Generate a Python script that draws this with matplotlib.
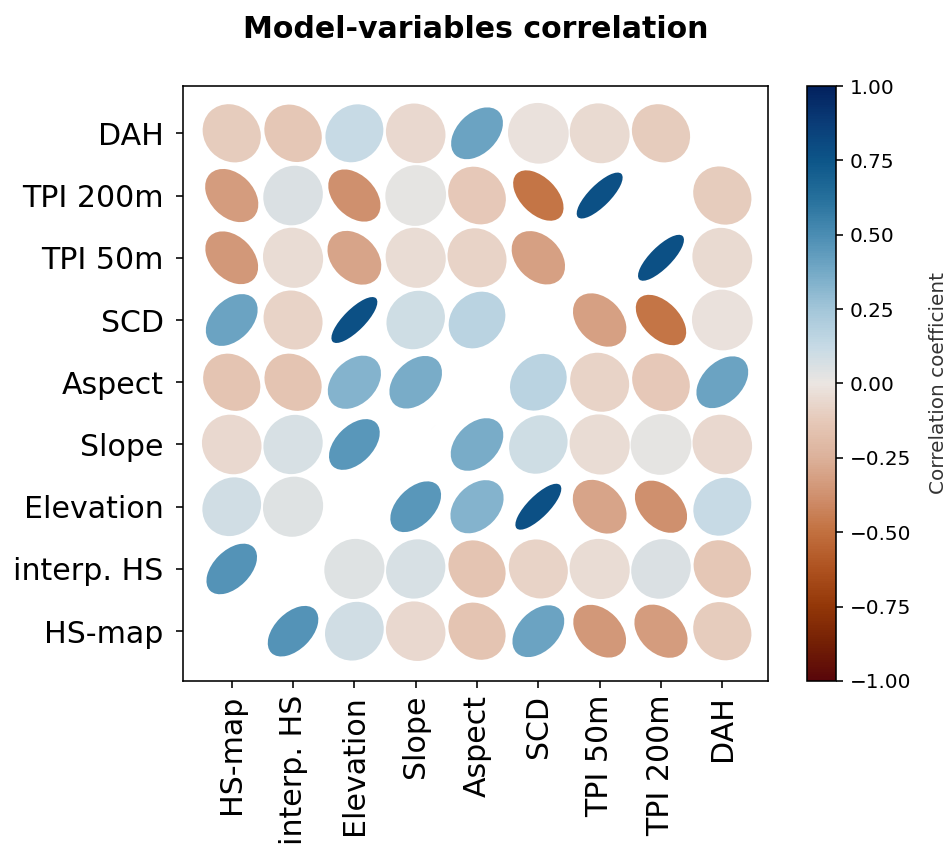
import numpy as np
import matplotlib
matplotlib.use("Agg")
import matplotlib.pyplot as plt
from matplotlib.collections import EllipseCollection
from matplotlib.colors import LinearSegmentedColormap, Normalize

variables = ["HS-map", "interp. HS", "Elevation", "Slope", "Aspect",
             "SCD", "TPI 50m", "TPI 200m", "DAH"]

# Pearson correlation of each variable with every variable (order of `variables`)
r_hs_map = [1.00, 0.47, 0.09, -0.06, -0.15, 0.40, -0.35, -0.33, -0.11]
r_interp = [0.47, 1.00, 0.04, 0.07, -0.15, -0.08, -0.04, 0.06, -0.14]
r_elev   = [0.09, 0.04, 1.00, 0.46, 0.33, 0.78, -0.30, -0.38, 0.12]
r_slope  = [-0.06, 0.07, 0.46, 1.00, 0.36, 0.10, -0.04, 0.02, -0.06]
r_aspect = [-0.15, -0.15, 0.33, 0.36, 1.00, 0.17, -0.08, -0.13, 0.40]
r_scd    = [0.40, -0.08, 0.78, 0.10, 0.17, 1.00, -0.32, -0.48, -0.02]
r_tpi50  = [-0.35, -0.04, -0.30, -0.04, -0.08, -0.32, 1.00, 0.78, -0.05]
r_tpi200 = [-0.33, 0.06, -0.38, 0.02, -0.13, -0.48, 0.78, 1.00, -0.11]
r_dah    = [-0.11, -0.14, 0.12, -0.06, 0.40, -0.02, -0.05, -0.11, 1.00]

M = np.array([r_hs_map, r_interp, r_elev, r_slope, r_aspect,
              r_scd, r_tpi50, r_tpi200, r_dah])

# diverging brown -> light grey -> blue map (vik, reversed)
vik_r = LinearSegmentedColormap.from_list("vik_r", [
    "#58060a", "#742005", "#933708", "#ae5220", "#c2703f", "#d09170",
    "#dcb19a", "#e6c9b9", "#ebe6e2", "#c6dae5", "#a3c6d9", "#75aac7",
    "#4b8db3", "#26709c", "#0d5689", "#0a3d78", "#03215e"])

fig = plt.figure(figsize=(947 / 144, 849 / 144), dpi=144)
ax = fig.add_axes([0.1929, 0.1979, 0.6184, 0.7008])
cax = fig.add_axes([0.852, 0.1979, 0.0306, 0.7008])

n = M.shape[0]
rows, cols = np.indices(M.shape)
xy = np.column_stack([cols.ravel(), rows.ravel()])
vals = M.ravel()
absr = np.abs(vals)

# ellipse of a unit bivariate normal: axis ratio sqrt((1-|r|)/(1+|r|))
ec = EllipseCollection(widths=np.ones_like(vals),
                       heights=np.sqrt((1 - absr) / (1 + absr)),
                       angles=45 * np.sign(vals), units="x", offsets=xy,
                       offset_transform=ax.transData, cmap=vik_r,
                       norm=Normalize(-1, 1), edgecolors="none")
ec.set_array(vals)
ax.add_collection(ec)

ax.set_xlim(-0.8, 8.75)
ax.set_ylim(-0.8, 8.76)
ax.set_xticks(range(n))
ax.set_yticks(range(n))
ax.set_xticklabels(variables, rotation=90, fontsize=15)
ax.set_yticklabels(variables, fontsize=15)
ax.tick_params(axis="y", pad=6)
ax.set_title("Model-variables correlation", fontsize=15, fontweight="bold", pad=24)

cb = fig.colorbar(ec, cax=cax)
cb.set_ticks(np.linspace(-1, 1, 9))
cb.set_label("Correlation coefficient", fontsize=10, labelpad=9, color="#333333")
cb.ax.tick_params(labelsize=10)

fig.savefig("out.png", dpi=144)
